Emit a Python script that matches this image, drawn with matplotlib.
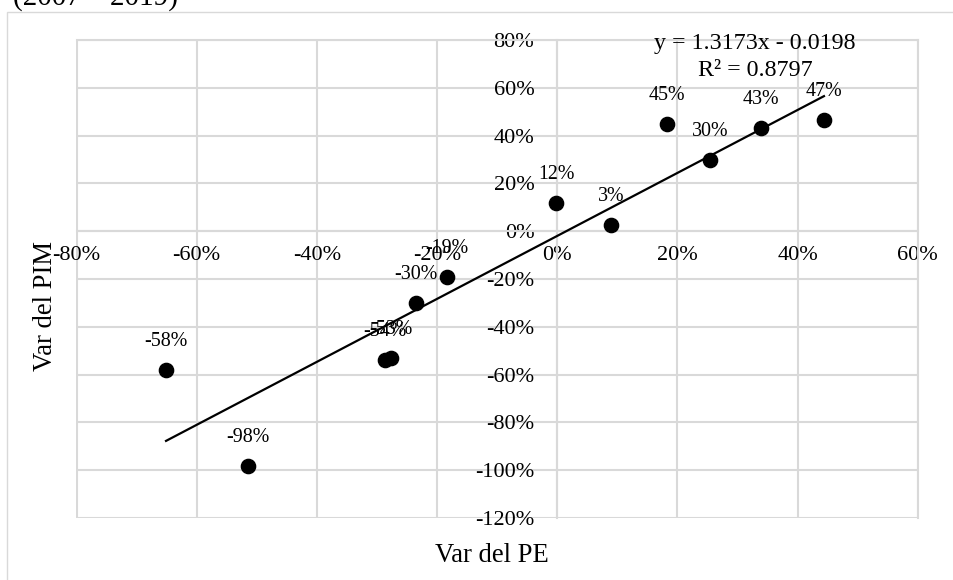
import matplotlib
matplotlib.use("agg")
import matplotlib.pyplot as plt
from matplotlib.patches import Rectangle
from matplotlib.ticker import FixedLocator, FuncFormatter
import numpy as np

plt.rcParams["font.family"] = ["Liberation Serif", "DejaVu Serif"]
plt.rcParams["axes.unicode_minus"] = False

# variation of PE (x) vs variation of PIM (y)
var_pe = [-0.651, -0.515, -0.287, -0.277, -0.235, -0.184,
          -0.002, 0.0895, 0.183, 0.254, 0.339, 0.444]
var_pim = [-0.581, -0.982, -0.539, -0.532, -0.302, -0.193,
           0.118, 0.026, 0.449, 0.297, 0.431, 0.466]

slope = 1.3173
intercept = -0.0198
r2 = 0.8797

x_ticks = [-0.8, -0.6, -0.4, -0.2, 0.0, 0.2, 0.4, 0.6]
y_ticks = [-1.2, -1.0, -0.8, -0.6, -0.4, -0.2, 0.0, 0.2, 0.4, 0.6, 0.8]

GRID = "#d9d9d9"
W, H = 954, 580

fig = plt.figure(figsize=(W / 100, H / 100), dpi=100)
ax = fig.add_axes([76.5 / W, (H - 518) / H, (917.7 - 76.5) / W, (518 - 40) / H])

# outer chart frame
fig.patches.append(Rectangle((7.5 / W, -0.1), 1.2, 1 - 11.5 / H + 0.1,
                             transform=fig.transFigure, fill=False,
                             edgecolor=GRID, linewidth=1))

ax.set_xlim(x_ticks[0], x_ticks[-1])
ax.set_ylim(y_ticks[0], y_ticks[-1])
ax.xaxis.set_major_locator(FixedLocator(x_ticks))
ax.yaxis.set_major_locator(FixedLocator(y_ticks))
pct = FuncFormatter(lambda v, p: "%d%%" % round(v * 100))
ax.xaxis.set_major_formatter(pct)
ax.yaxis.set_major_formatter(pct)
ax.grid(True, color=GRID, linewidth=1.5)
ax.set_axisbelow(True)

for side in ["top", "right"]:
    ax.spines[side].set_color(GRID)
    ax.spines[side].set_linewidth(1.5)
for side in ["left", "bottom"]:
    ax.spines[side].set_position("zero")
    ax.spines[side].set_color(GRID)
    ax.spines[side].set_linewidth(1.5)

ax.tick_params(axis="both", length=0, labelsize=16, colors="black")
ax.tick_params(axis="x", pad=11)
ax.tick_params(axis="y", pad=16.5)

# trend line over the data range
xs = np.array([min(var_pe), max(var_pe)])
ax.plot(xs, slope * xs + intercept, color="black", linewidth=1.6, zorder=3)

ax.scatter(var_pe, var_pim, s=105, color="black", zorder=4, clip_on=False)

for xv, yv in zip(var_pe, var_pim):
    ax.annotate("%d%%" % round(yv * 100), (xv, yv), xytext=(0, 20.5),
                textcoords="offset points", ha="center", va="center",
                fontsize=14.4, zorder=5)

ax.text(755 / W, 1 - 43 / H, "y = 1.3173x - 0.0198", transform=fig.transFigure,
        ha="center", va="center", fontsize=17.3)
ax.text(755 / W, 1 - 70 / H, "R² = %.4f" % r2, transform=fig.transFigure,
        ha="center", va="center", fontsize=17.3)

fig.text(492 / W, 1 - 555 / H, "Var del PE", ha="center", va="center",
         fontsize=19.2)
fig.text(45 / W, 1 - 306 / H, "Var del PIM", ha="center", va="center",
         rotation=90, fontsize=19.2)
fig.text(13 / W, 1 - 5 / H, "(2007 – 2019)", ha="left", va="baseline",
         fontsize=21)

fig.savefig("out.png", dpi=100)
